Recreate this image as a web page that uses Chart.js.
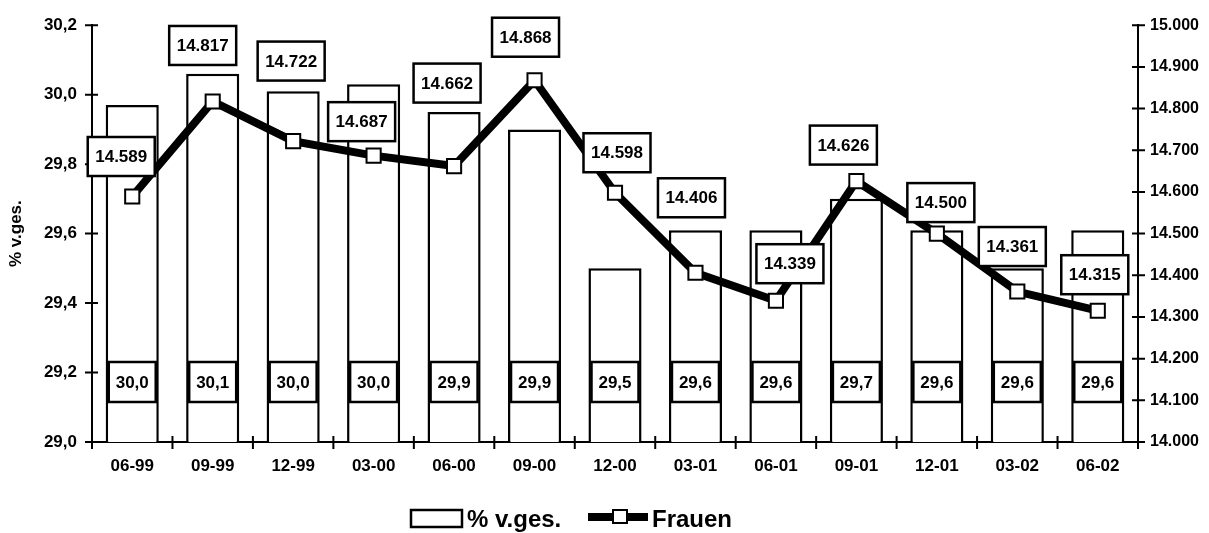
<!DOCTYPE html>
<html>
<head>
<meta charset="utf-8">
<script src="https://cdn.jsdelivr.net/npm/chart.js@4"></script>
<style>
  html, body { margin: 0; padding: 0; background: #fff; }
  #wrap { width: 1209px; height: 533px; position: relative; }
</style>
</head>
<body>
<div id="wrap"><canvas id="c" width="1209" height="533"></canvas></div>
<script>
// ---- data ----
const categories = ["06-99","09-99","12-99","03-00","06-00","09-00","12-00","03-01","06-01","09-01","12-01","03-02","06-02"];
const shareValues = [29.97, 30.06, 30.01, 30.03, 29.95, 29.90, 29.50, 29.61, 29.61, 29.70, 29.61, 29.50, 29.61];
const shareLabels = ["30,0","30,1","30,0","30,0","29,9","29,9","29,5","29,6","29,6","29,7","29,6","29,6","29,6"];
const frauenValues = [14589, 14817, 14722, 14687, 14662, 14868, 14598, 14406, 14339, 14626, 14500, 14361, 14315];
const leftTicks = [29.0, 29.2, 29.4, 29.6, 29.8, 30.0, 30.2];
const rightTicks = [14000, 14100, 14200, 14300, 14400, 14500, 14600, 14700, 14800, 14900, 15000];
const legendNames = ["% v.ges.", "Frauen"];

// ---- layout (label box offsets relative to line points, px) ----
const lineLabelOffsets = [[-11,-40],[-10,-56],[-2,-80],[-12,-34],[-7,-83],[-9,-43],[2,-40],[-4,-75],[14,-37],[-13,-36],[4,-31],[-5,-45],[-3,-36]];

function fmtThousands(v) {
  const s = String(Math.round(v));
  return s.replace(/\B(?=(\d{3})+(?!\d))/g, ".");
}
function fmtComma(v) { return v.toFixed(1).replace(".", ","); }

const FONT = "'Liberation Sans', Arial, sans-serif";

function boxText(ctx, cx, cy, w, h, text, font) {
  ctx.save();
  ctx.fillStyle = "#fff";
  ctx.fillRect(cx - w / 2, cy - h / 2, w, h);
  ctx.lineWidth = 2.5;
  ctx.strokeStyle = "#000";
  ctx.strokeRect(cx - w / 2, cy - h / 2, w, h);
  ctx.fillStyle = "#000";
  ctx.font = font;
  ctx.textAlign = "center";
  ctx.textBaseline = "middle";
  ctx.fillText(text, cx, cy + 1);
  ctx.restore();
}

const crossTicks = {
  id: "crossTicks",
  afterDatasetsDraw(chart) {
    const ctx = chart.ctx;
    const a = chart.chartArea;
    const y = chart.scales.y, y1 = chart.scales.y1, x = chart.scales.x;
    ctx.save();
    ctx.strokeStyle = "#000";
    ctx.lineWidth = 2;
    ctx.beginPath();
    leftTicks.forEach(v => { const p = y.getPixelForValue(v); ctx.moveTo(a.left - 7, p); ctx.lineTo(a.left + 6, p); });
    rightTicks.forEach(v => { const p = y1.getPixelForValue(v); ctx.moveTo(a.right - 6, p); ctx.lineTo(a.right + 7, p); });
    const step = (a.right - a.left) / categories.length;
    for (let i = 0; i <= categories.length; i++) {
      const px = x.getPixelForValue(0) - step / 2 + i * step;
      ctx.moveTo(px, a.bottom - 6); ctx.lineTo(px, a.bottom + 7);
    }
    ctx.stroke();
    ctx.restore();
  }
};

const valueBoxes = {
  id: "valueBoxes",
  afterDatasetsDraw(chart) {
    const ctx = chart.ctx;
    const a = chart.chartArea;
    const barMeta = chart.getDatasetMeta(0);
    barMeta.data.forEach((el, i) => {
      boxText(ctx, el.x, a.bottom - 60, 47, 40, shareLabels[i], "bold 17px " + FONT);
    });
    const lineMeta = chart.getDatasetMeta(1);
    lineMeta.data.forEach((el, i) => {
      const o = lineLabelOffsets[i];
      boxText(ctx, el.x + o[0], el.y + o[1], 67, 39, fmtThousands(frauenValues[i]), "bold 17px " + FONT);
    });
  }
};

const customLegend = {
  id: "customLegend",
  afterDraw(chart) {
    const ctx = chart.ctx;
    ctx.save();
    // bar symbol
    ctx.fillStyle = "#fff";
    ctx.fillRect(411, 510, 51, 17);
    ctx.strokeStyle = "#000";
    ctx.lineWidth = 2.5;
    ctx.strokeRect(411, 510, 51, 17);
    ctx.fillStyle = "#000";
    ctx.font = "bold 24px " + FONT;
    ctx.textAlign = "left";
    ctx.textBaseline = "alphabetic";
    ctx.fillText(legendNames[0], 467, 527);
    // line symbol
    ctx.lineWidth = 8;
    ctx.beginPath();
    ctx.moveTo(588, 517); ctx.lineTo(648, 517);
    ctx.stroke();
    ctx.fillStyle = "#fff";
    ctx.fillRect(613, 510, 14, 13);
    ctx.lineWidth = 2;
    ctx.strokeRect(613, 510, 14, 13);
    ctx.fillStyle = "#000";
    ctx.fillText(legendNames[1], 652, 527);
    ctx.restore();
  }
};

new Chart(document.getElementById("c"), {
  type: "bar",
  data: {
    labels: categories,
    datasets: [
      {
        type: "bar",
        label: legendNames[0],
        data: shareValues,
        yAxisID: "y",
        backgroundColor: "#fff",
        borderColor: "#000",
        borderWidth: 2.5,
        borderSkipped: "bottom",
        categoryPercentage: 1.0,
        barPercentage: 0.66,
        order: 2
      },
      {
        type: "line",
        label: legendNames[1],
        data: frauenValues,
        yAxisID: "y1",
        borderColor: "#000",
        borderWidth: 8,
        tension: 0,
        pointStyle: "rect",
        pointRadius: 10,
        pointHoverRadius: 10,
        pointBackgroundColor: "#fff",
        pointBorderColor: "#000",
        pointBorderWidth: 2,
        order: 1
      }
    ]
  },
  options: {
    responsive: false,
    animation: false,
    events: [],
    layout: { padding: { top: 22, left: 0, right: 0, bottom: 0 } },
    plugins: {
      legend: { display: false },
      tooltip: { enabled: false }
    },
    scales: {
      x: {
        offset: true,
        grid: { display: false, offset: true, drawTicks: false },
        border: { display: true, color: "#000", width: 2 },
        ticks: { color: "#000", font: { family: FONT, size: 17, weight: "bold" }, padding: 14, maxRotation: 0, autoSkip: false },
        afterFit(s) { s.height = 91; }
      },
      y: {
        position: "left",
        min: 29.0,
        max: 30.2,
        afterBuildTicks(s) { s.ticks = leftTicks.map(v => ({ value: v })); },
        grid: { display: false, drawTicks: false },
        border: { display: true, color: "#000", width: 2 },
        ticks: { color: "#000", font: { family: FONT, size: 17, weight: "bold" }, padding: 15, callback: v => fmtComma(v) },
        title: { display: true, text: "% v.ges.", color: "#000", font: { family: FONT, size: 17, weight: "bold" }, padding: { top: 6, bottom: 0 } },
        afterFit(s) { s.width = 92; }
      },
      y1: {
        position: "right",
        min: 14000,
        max: 15000,
        afterBuildTicks(s) { s.ticks = rightTicks.map(v => ({ value: v })); },
        grid: { display: false, drawTicks: false },
        border: { display: true, color: "#000", width: 2 },
        ticks: { color: "#000", font: { family: FONT, size: 16, weight: "bold" }, padding: 12, callback: v => fmtThousands(v) },
        afterFit(s) { s.width = 71; }
      }
    }
  },
  plugins: [crossTicks, valueBoxes, customLegend]
});
</script>
</body>
</html>
